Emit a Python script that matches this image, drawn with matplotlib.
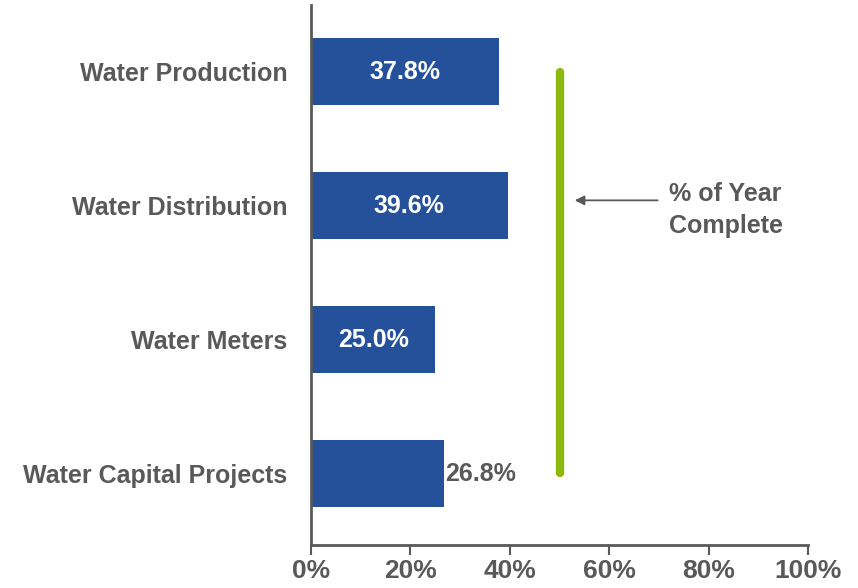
import matplotlib
matplotlib.use("Agg")
import matplotlib.pyplot as plt
import numpy as np

plt.rcParams['font.family'] = ['Liberation Sans', 'DejaVu Sans']

categories = ["Water Production", "Water Distribution", "Water Meters", "Water Capital Projects"]
values = [37.8, 39.6, 25.0, 26.8]
inside_label = [True, True, True, False]
year_complete = 50.0
xticks = [0, 20, 40, 60, 80, 100]
xtick_labels = ["0%", "20%", "40%", "60%", "80%", "100%"]

BLUE = "#24519A"
GRAY = "#595959"
GREEN = "#8DB90E"

fig = plt.figure(figsize=(8.58, 5.88), dpi=100)
ax = fig.add_axes([311/858, 1-545/588, (808-311)/858, (545-5)/588])

y = np.arange(len(categories))
ax.barh(y, values, height=0.5, color=BLUE, zorder=2)

for yi, v, ins in zip(y, values, inside_label):
    if ins:
        ax.text(v/2, yi, f"{v:.1f}%", ha="center", va="center", color="white",
                fontsize=18, fontweight="bold")
    else:
        ax.text(v + 0.2, yi, f"{v:.1f}%", ha="left", va="center", color=GRAY,
                fontsize=18, fontweight="bold")

ax.plot([year_complete, year_complete], [-0.0, 2.99], color=GREEN, lw=6,
        solid_capstyle="round", zorder=3)

ax.annotate("", xy=(52.5, 0.958), xytext=(70.3, 0.958),
            arrowprops=dict(arrowstyle="-|>", color=GRAY, lw=1.3, mutation_scale=14))
ax.text(72.0, 1.03, "% of Year\nComplete", ha="left", va="center", color=GRAY,
        fontsize=18, fontweight="bold", linespacing=1.38)

ax.set_xlim(0, 100)
ax.set_ylim(3.53, -0.5)
ax.set_yticks(y)
ax.set_yticklabels(categories, fontsize=18, fontweight="bold", color=GRAY)
ax.set_xticks(xticks)
ax.set_xticklabels(xtick_labels, fontsize=19, fontweight="bold", color=GRAY)
ax.tick_params(axis="y", length=0, pad=17)
ax.tick_params(axis="x", length=7, width=1.5, color=GRAY, pad=3, direction="out")

for s in ["top", "right"]:
    ax.spines[s].set_visible(False)
for s in ["left", "bottom"]:
    ax.spines[s].set_color(GRAY)
    ax.spines[s].set_linewidth(2)

fig.savefig("out.png", dpi=100)
